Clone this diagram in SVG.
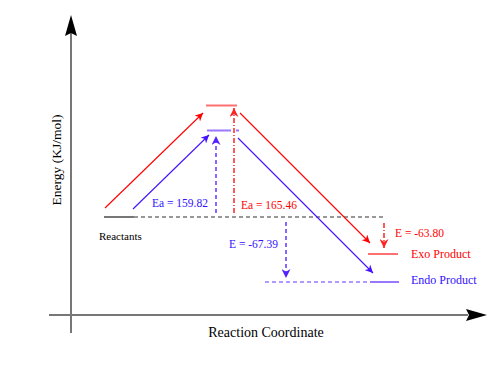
<svg xmlns="http://www.w3.org/2000/svg" width="502" height="383" viewBox="0 0 502 383" font-family="'Liberation Serif', 'DejaVu Serif', serif">
<defs>
<marker id="ah-red" viewBox="0 0 10 10" refX="10" refY="5" markerWidth="8" markerHeight="8" markerUnits="userSpaceOnUse" orient="auto"><path d="M0,0 L10,5 L0,10 L3,5 Z" fill="#ff0000"/></marker>
<marker id="ah-blue" viewBox="0 0 10 10" refX="10" refY="5" markerWidth="8" markerHeight="8" markerUnits="userSpaceOnUse" orient="auto"><path d="M0,0 L10,5 L0,10 L3,5 Z" fill="#4411ff"/></marker>
<marker id="ah-red2" viewBox="0 0 10 10" refX="10" refY="5" markerWidth="9" markerHeight="9" markerUnits="userSpaceOnUse" orient="auto"><path d="M0,0 L10,5 L0,10 L3,5 Z" fill="#ff2222"/></marker>
<marker id="ah-blue2" viewBox="0 0 10 10" refX="10" refY="5" markerWidth="9" markerHeight="9" markerUnits="userSpaceOnUse" orient="auto"><path d="M0,0 L10,5 L0,10 L3,5 Z" fill="#5522ff"/></marker>
</defs>
<style>
text{font-family:'Liberation Serif', serif}
.axis{stroke:#777;stroke-width:2;fill:none}
.grey{stroke:#777;stroke-width:2;fill:none}
.greyd{stroke:#777;stroke-width:1.5;stroke-dasharray:4,3;fill:none}
.redlvl{stroke:#ff7070;stroke-width:2;fill:none}
.bluelvl{stroke:#9977ff;stroke-width:2;fill:none}
.bluelvld{stroke:#9977ff;stroke-width:1.5;stroke-dasharray:4,3;fill:none}
.redarr{stroke:#ff0000;stroke-width:1.1;fill:none;marker-end:url(#ah-red)}
.bluearr{stroke:#4411ff;stroke-width:1.1;fill:none;marker-end:url(#ah-blue)}
.redv{stroke:#ff2222;stroke-width:1.5;stroke-dasharray:5,2,1,2;fill:none;marker-end:url(#ah-red2)}
.bluev{stroke:#8866ff;stroke-width:2;stroke-dasharray:4,3;fill:none;marker-end:url(#ah-blue2)}
.red{fill:#ff0000}
.blue{fill:#3311ff}
</style>
<g id="axes">
<line class="axis" x1="71" y1="32" x2="71" y2="333"/>
<path d="M71,15 L77,36 L71,33 L65,36 Z" fill="#000"/>
<line class="axis" x1="49" y1="315" x2="468" y2="315"/>
<path d="M487,315 L466,309 L469,315 L466,321 Z" fill="#000"/>
<text x="266" y="337" font-size="14" text-anchor="middle" fill="#000">Reaction Coordinate</text>
<text transform="translate(61,160) rotate(-90)" font-size="13.5" text-anchor="middle" fill="#000">Energy (KJ/mol)</text>
</g>
<g id="reactants">
<line class="grey" x1="104" y1="217" x2="134" y2="217"/>
<line class="greyd" x1="134" y1="217" x2="384" y2="217"/>
<text x="99" y="240" font-size="11" fill="#000">Reactants</text>
</g>
<g id="ts-exo">
<line class="redlvl" x1="206" y1="105.5" x2="237" y2="105.5"/>
</g>
<g id="ts-endo">
<line class="bluelvl" x1="207" y1="130.5" x2="231" y2="130.5"/>
<line class="bluelvl" x1="236" y1="130.5" x2="239" y2="130.5"/>
</g>
<g id="exo-product">
<line class="redlvl" x1="368" y1="254" x2="398" y2="254"/>
<text class="red" x="411" y="258" font-size="12">Exo Product</text>
</g>
<g id="endo-product">
<line class="bluelvld" x1="265" y1="282" x2="370" y2="282"/>
<line class="bluelvl" x1="370" y1="282" x2="399" y2="282"/>
<text class="blue" x="411" y="284" font-size="12">Endo Product</text>
</g>
<g id="connectors">
<line class="redarr" x1="105" y1="208" x2="203" y2="113"/>
<line class="bluearr" x1="133" y1="209" x2="209" y2="135"/>
<line class="redarr" x1="240" y1="113" x2="370" y2="243"/>
<line class="bluearr" x1="238" y1="138" x2="373" y2="273"/>
<line class="bluev" x1="216" y1="213" x2="216" y2="136"/>
<line class="redv" x1="234" y1="213" x2="234" y2="108"/>
<line class="redv" x1="384" y1="223" x2="384" y2="248"/>
<line class="bluev" x1="286" y1="222" x2="286" y2="278"/>
</g>
<g id="labels">
<text class="blue" x="152" y="207" font-size="11.5">Ea = 159.82</text>
<text class="red" x="241" y="209" font-size="11.5">Ea = 165.46</text>
<text class="red" x="395" y="237" font-size="11.5">E = -63.80</text>
<text class="blue" x="278" y="248" font-size="11.5" text-anchor="end">E = -67.39</text>
</g>
</svg>
